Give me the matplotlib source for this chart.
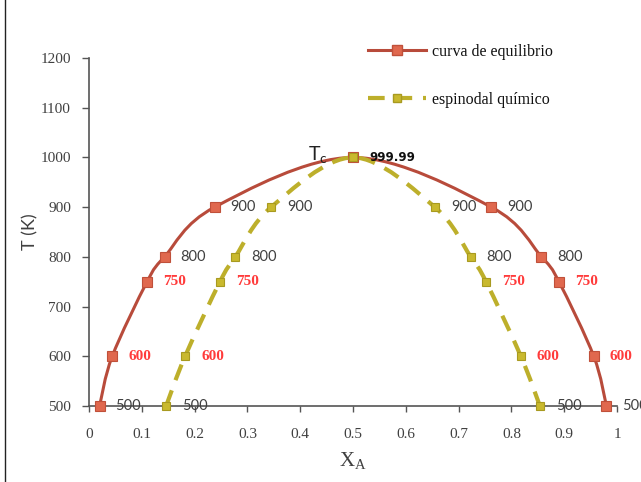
import matplotlib
matplotlib.use("Agg")
import matplotlib.pyplot as plt
from matplotlib.path import Path
from matplotlib.patches import PathPatch
from matplotlib.lines import Line2D
import numpy as np

# ---- data ----
eq_x = [0.020, 0.044, 0.110, 0.143, 0.238, 0.500, 0.762, 0.857, 0.890, 0.956, 0.980]
eq_T = [500, 600, 750, 800, 900, 1000, 900, 800, 750, 600, 500]
sp_x = [0.146, 0.182, 0.248, 0.277, 0.345, 0.500, 0.655, 0.723, 0.752, 0.818, 0.854]
sp_T = [500, 600, 750, 800, 900, 1000, 900, 800, 750, 600, 500]
eq_labels = ["500", "600", "750", "800", "900", "", "900", "800", "750", "600", "500"]
sp_labels = ["500", "600", "750", "800", "900", "999.99", "900", "800", "750", "600", "500"]
series_names = ["curva de equilibrio", "espinodal químico"]
x_ticks = [0, 0.1, 0.2, 0.3, 0.4, 0.5, 0.6, 0.7, 0.8, 0.9, 1]
x_ticklabels = ["0", "0.1", "0.2", "0.3", "0.4", "0.5", "0.6", "0.7", "0.8", "0.9", "1"]
y_ticks = [500, 600, 700, 800, 900, 1000, 1100, 1200]

EQ_LINE = "#B84B3B"
EQ_MFACE = "#E0684E"
EQ_MEDGE = "#C0503A"
SP_LINE = "#BDAF2B"
SP_MFACE = "#C9B92E"
SP_MEDGE = "#A89A20"
GRAY = "#404040"
RED = "#FF3B3B"


def smooth_path(xs, ys):
    pts = np.column_stack([xs, ys]).astype(float)
    n = len(pts)
    verts = [pts[0]]
    codes = [Path.MOVETO]
    for i in range(n - 1):
        p0 = pts[i - 1] if i > 0 else pts[i]
        p1 = pts[i]
        p2 = pts[i + 1]
        p3 = pts[i + 2] if i + 2 < n else pts[i + 1]
        c1 = p1 + (p2 - p0) / 6.0
        c2 = p2 - (p3 - p1) / 6.0
        verts += [c1, c2, p2]
        codes += [Path.CURVE4] * 3
    return Path(verts, codes)


W, H = 641, 482
fig = plt.figure(figsize=(W / 100, H / 100), dpi=100)
ax = fig.add_axes([89 / W, 1 - 406 / H, (617 - 89) / W, (406 - 58) / H])

# curves (spinodal drawn on top of equilibrium)
ax.add_patch(PathPatch(smooth_path(eq_x, eq_T), fill=False, edgecolor=EQ_LINE,
                       lw=2.2, zorder=2, clip_on=False))
ax.plot(eq_x, eq_T, ls="none", marker="s", ms=6.5, mfc=EQ_MFACE, mec=EQ_MEDGE,
        mew=0.8, zorder=3, clip_on=False)
ax.add_patch(PathPatch(smooth_path(sp_x, sp_T), fill=False, edgecolor=SP_LINE,
                       lw=3.0, linestyle=(0, (4, 2.6)), capstyle="butt", zorder=4,
                       clip_on=False))
ax.plot(sp_x, sp_T, ls="none", marker="s", ms=5.5, mfc=SP_MFACE, mec=SP_MEDGE,
        mew=0.8, zorder=5, clip_on=False)


def add_labels(xs, ts, labels):
    for x, t, lab in zip(xs, ts, labels):
        if not lab:
            continue
        if lab in ("600", "750"):
            kw = dict(color=RED, fontweight="bold", family="Liberation Serif", fontsize=11)
        elif lab == "999.99":
            kw = dict(color="#111111", fontweight="bold", family="DejaVu Sans", fontsize=8.5)
        else:
            kw = dict(color=GRAY, family="Lato", fontsize=10.5)
        ax.annotate(lab, (x, t), xytext=(16, 0), textcoords="offset pixels",
                    ha="left", va="center", zorder=6, annotation_clip=False, **kw)


add_labels(eq_x, eq_T, eq_labels)
add_labels(sp_x, sp_T, sp_labels)

# Tc label
ax.text(0.415, 1005, r"T$_\mathregular{c}$", fontsize=14, family="Lato",
        color="#222222", ha="left", va="center", zorder=6)

# axes styling
ax.set_xlim(0, 1)
ax.set_ylim(500, 1200)
for s in ("top", "right"):
    ax.spines[s].set_visible(False)
for s in ("left", "bottom"):
    ax.spines[s].set_color("#555555")
    ax.spines[s].set_linewidth(1.2)
    ax.spines[s].set_zorder(1)
ax.set_xticks(x_ticks)
ax.set_xticklabels(x_ticklabels)
ax.set_yticks(y_ticks)
ax.tick_params(axis="x", direction="out", length=4, width=1, color="#555555",
               pad=12, labelsize=11, labelcolor=GRAY)
ax.tick_params(axis="y", direction="out", length=5, width=1, color="#555555",
               pad=8, labelsize=11, labelcolor=GRAY)
for lab in ax.get_xticklabels() + ax.get_yticklabels():
    lab.set_family("Liberation Serif")

ax.set_xlabel(r"X$_\mathregular{A}$", fontsize=15, family="Liberation Serif",
              color=GRAY)
ax.xaxis.set_label_coords(0.5, -44 / 348)
ax.set_ylabel("T (K)", fontsize=13, family="Lato", color=GRAY)
ax.yaxis.set_label_coords(-51 / 528, 0.5)

# legend
h1 = Line2D([], [], color=EQ_LINE, lw=2.2, marker="s", ms=6.5, mfc=EQ_MFACE, mec=EQ_MEDGE)
h2 = Line2D([], [], color=SP_LINE, lw=3.0, linestyle=(0, (4, 2.6)), marker="s", ms=5.5,
            mfc=SP_MFACE, mec=SP_MEDGE)
leg = fig.legend([h1, h2], series_names, loc="upper left",
                 bbox_to_anchor=(368 / W, 1 - 44 / H), frameon=False,
                 prop={"family": "Liberation Serif", "size": 11.5},
                 handlelength=3.6, handletextpad=0.4, labelspacing=2.0,
                 borderpad=0, borderaxespad=0)
for t in leg.get_texts():
    t.set_color("#111111")

# left border line of the chart area
fig.add_artist(Line2D([5 / W, 5 / W], [0, 1], color="#222222", lw=1.0,
                      transform=fig.transFigure))

fig.savefig("out.png", dpi=100)
